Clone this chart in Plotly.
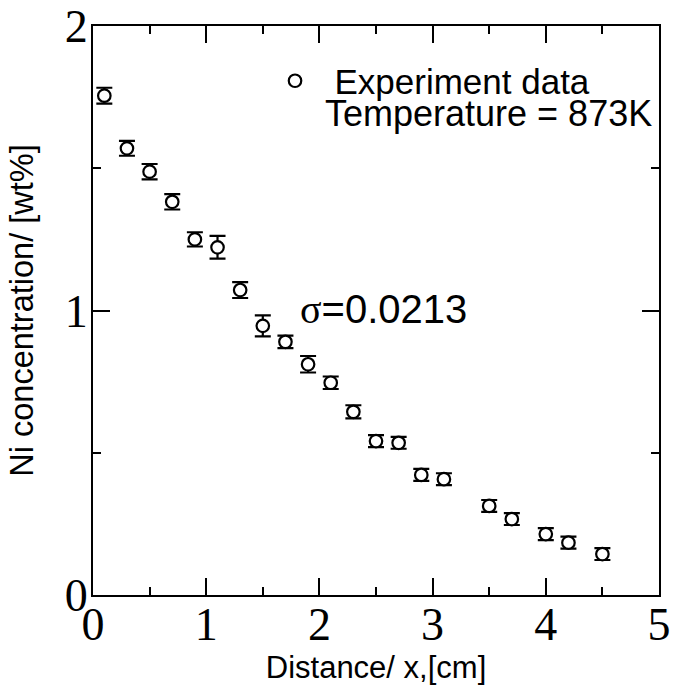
import plotly.graph_objects as go

distance = [0.1, 0.3, 0.5, 0.7, 0.9, 1.1, 1.3, 1.5, 1.7, 1.9, 2.1,
            2.3, 2.5, 2.7, 2.9, 3.1, 3.5, 3.7, 4.0, 4.2, 4.5]
ni_conc = [1.755, 1.570, 1.488, 1.382, 1.250, 1.222, 1.072, 0.946, 0.890, 0.811, 0.746,
           0.644, 0.541, 0.535, 0.422, 0.407, 0.313, 0.267, 0.214, 0.184, 0.144]
ni_err = [0.028, 0.026, 0.027, 0.027, 0.025, 0.040, 0.028, 0.037, 0.022, 0.029, 0.022,
          0.023, 0.021, 0.021, 0.021, 0.021, 0.021, 0.021, 0.021, 0.021, 0.021]

legend_name = "\u00a0\u00a0Experiment data"
temp_label = "Temperature = 873K"
sigma_label = "<span style='font-family:Liberation Serif'>σ</span>=0.0213"
x_title = "Distance/ x,[cm]"
y_title = "Ni concentration/ [wt%]"

fig = go.Figure()
fig.add_trace(go.Scatter(
    x=distance, y=ni_conc, mode="markers", name=legend_name,
    marker=dict(symbol="circle", size=12.5, color="white",
                line=dict(color="black", width=2.2)),
    error_y=dict(type="data", array=ni_err, visible=True,
                 color="black", thickness=2.2, width=8),
    showlegend=True,
))

axis_common = dict(
    showline=True, linecolor="black", linewidth=2.3, mirror="ticks",
    ticks="inside", ticklen=17, tickwidth=2.3, tickcolor="black",
    showgrid=False, zeroline=False, automargin=False,
    tickfont=dict(family="Liberation Serif", size=46, color="black"),
    minor=dict(dtick=0.5, ticks="inside", ticklen=8, tickwidth=2.3, tickcolor="black", showgrid=False),
)

fig.update_xaxes(range=[0, 5], dtick=1, tick0=0, ticklabelstandoff=-12,
                 title=dict(text=x_title, font=dict(family="Liberation Sans", size=31, color="black"), standoff=1),
                 **axis_common)
fig.update_yaxes(range=[0, 2], dtick=1, tick0=0, ticklabelstandoff=-6,
                 title=dict(text=y_title, font=dict(family="Liberation Sans", size=32.5, color="black"), standoff=21),
                 **axis_common)

fig.add_annotation(x=0.4064, y=0.8471, xref="paper", yref="paper", text=temp_label,
                   showarrow=False, xanchor="left", yanchor="middle",
                   font=dict(family="Liberation Sans", size=36, color="black"))
fig.add_annotation(x=0.3622, y=0.5009, xref="paper", yref="paper", text=sigma_label,
                   showarrow=False, xanchor="left", yanchor="middle",
                   font=dict(family="Liberation Sans", size=40, color="black"))

fig.update_layout(
    width=675, height=686,
    margin=dict(l=93, r=16, t=26, b=91, autoexpand=False),
    plot_bgcolor="white", paper_bgcolor="white",
    legend=dict(x=0.3216, y=0.9552, xanchor="left", yanchor="top",
                bgcolor="rgba(0,0,0,0)", borderwidth=0,
                font=dict(family="Liberation Sans", size=35, color="black")),
)

fig.write_html("out.html")
